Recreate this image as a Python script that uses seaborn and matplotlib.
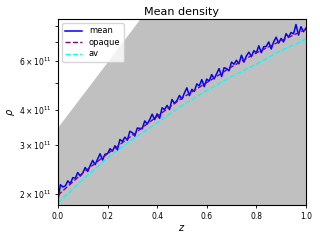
import numpy as np
import matplotlib
matplotlib.use("Agg")
import matplotlib.pyplot as plt
import seaborn as sns

# values in units of 1e11
SCALE = 1e11

z_mean = np.linspace(0.0, 1.0, 101)
mean_rho = [
    1.90, 2.16, 2.12, 2.14, 2.23, 2.18, 2.29, 2.28, 2.39, 2.32,
    2.38, 2.49, 2.41, 2.53, 2.64, 2.55, 2.67, 2.79, 2.65, 2.78,
    2.79, 2.91, 2.85, 2.98, 2.88, 3.14, 3.09, 3.20, 3.12, 3.36,
    3.32, 3.23, 3.45, 3.44, 3.43, 3.66, 3.57, 3.70, 3.87, 3.70,
    3.88, 3.74, 4.08, 4.02, 4.16, 4.02, 4.37, 4.23, 4.33, 4.52,
    4.38, 4.61, 4.81, 4.51, 4.75, 4.67, 4.97, 4.89, 5.15, 4.86,
    5.17, 5.09, 5.37, 5.18, 5.41, 5.64, 5.28, 5.68, 5.64, 5.54,
    5.95, 5.85, 6.04, 5.87, 6.30, 5.95, 6.26, 6.46, 6.22, 6.54,
    6.42, 6.81, 6.43, 6.76, 6.77, 7.03, 6.63, 7.04, 7.31, 6.96,
    7.24, 7.03, 7.53, 7.31, 7.60, 7.52, 8.12, 7.44, 7.97, 7.65,
    7.88,
]

z_smooth = [0.0, 0.1, 0.2, 0.3, 0.4, 0.5, 0.6, 0.7, 0.8, 0.9, 1.0]
opaque_rho = [1.98, 2.38, 2.79, 3.25, 3.80, 4.42, 5.02, 5.72, 6.42, 7.10, 7.80]
av_rho = [1.86, 2.25, 2.70, 3.14, 3.60, 4.15, 4.70, 5.28, 5.85, 6.55, 7.20]

# min/max envelope (grey band)
z_band = [0.0, 0.1, 0.2, 0.3, 0.4, 0.6, 0.8, 1.0]
band_hi = [3.45, 4.52, 5.92, 7.76, 10.2, 17.4, 30.0, 51.5]
band_lo = [1.00, 1.05, 1.10, 1.15, 1.20, 1.30, 1.50, 1.70]

fig = plt.figure(figsize=(3.2, 2.4), dpi=100)
ax = fig.add_axes([0.181, 0.144, 0.775, 0.777])

ax.fill_between(z_band, np.array(band_lo) * SCALE, np.array(band_hi) * SCALE,
                color="silver", lw=0)
sns.lineplot(x=z_mean, y=np.array(mean_rho) * SCALE, color="b", lw=1.1,
             label="mean", ax=ax)
sns.lineplot(x=z_smooth, y=np.array(opaque_rho) * SCALE, color="purple", lw=1,
             linestyle="--", label="opaque", ax=ax)
sns.lineplot(x=z_smooth, y=np.array(av_rho) * SCALE, color="cyan", lw=1,
             linestyle="--", label="av", ax=ax)

ax.set_yscale("log")
ax.set_xlim(0, 1)
ax.set_ylim(1.82e11, 8.5e11)
ax.set_xlabel("$z$", fontsize=7, labelpad=2)
ax.set_ylabel(r"$\rho$", fontsize=7, labelpad=2)
ax.set_title("Mean density", fontsize=8, pad=3)
ax.tick_params(axis="both", which="both", labelsize=5.5, length=2.5, width=0.6, pad=2)
for s in ax.spines.values():
    s.set_linewidth(0.8)
ax.legend(loc="upper left", fontsize=6, handlelength=2, borderpad=0.4,
          labelspacing=0.3, framealpha=0.8)

fig.savefig("out.png", dpi=100)
